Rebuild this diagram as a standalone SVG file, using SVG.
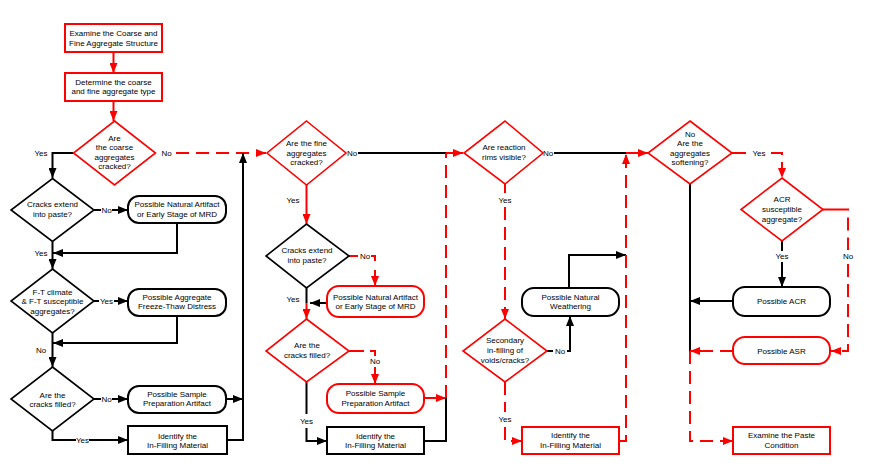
<svg xmlns="http://www.w3.org/2000/svg" width="871" height="469" viewBox="0 0 871 469">
<style>
.r{fill:none;stroke:#f00;stroke-width:2}
.k{fill:none;stroke:#000;stroke-width:2}
.d{stroke-dasharray:13 7}
.nr{fill:#fff;stroke:#f00;stroke-width:2}
.nk{fill:#fff;stroke:#000;stroke-width:2}
.dr{fill:#fff;stroke:#f00;stroke-width:1.6}
.dk{fill:#fff;stroke:#000;stroke-width:1.6}
.ar{marker-end:url(#ar)}
.ak{marker-end:url(#ak)}
text{font-family:"Liberation Sans",Arial,sans-serif;font-size:8px;text-anchor:middle;fill:#000}
</style>
<defs>
<marker id="ak" viewBox="0 0 10 8" refX="10" refY="4" markerWidth="10" markerHeight="8" markerUnits="userSpaceOnUse" orient="auto"><path d="M0,0 L10,4 L0,8 z" fill="#000"/></marker>
<marker id="ar" viewBox="0 0 10 8" refX="10" refY="4" markerWidth="10" markerHeight="8" markerUnits="userSpaceOnUse" orient="auto"><path d="M0,0 L10,4 L0,8 z" fill="#f00"/></marker>
</defs>
<rect width="871" height="469" fill="#fff"/>
<g id="connectors">
<path class="r ar" d="M113.5,52 V73"/>
<path class="r ar" d="M113.5,101 V121"/>
<path class="k ak" d="M73.5,153 H52.5 V178"/>
<path class="r d ar" d="M176,153 H266"/>
<path class="k" d="M94,210 H101"/>
<path class="k ak" d="M112,210 H128"/>
<path class="k ak" d="M177,223 V253 H53"/>
<path class="k ak" d="M52.5,241.5 V269"/>
<path class="k" d="M94,301 H99"/>
<path class="k ak" d="M114,301 H128"/>
<path class="k ak" d="M177,316 V343 H53"/>
<path class="k ak" d="M52.5,333 V367"/>
<path class="k" d="M94,399 H101"/>
<path class="k ak" d="M112,399 H128"/>
<path class="k ak" d="M226,399 H243"/>
<path class="k" d="M52.5,431 V440 H76"/>
<path class="k ak" d="M89,440 H128"/>
<path class="k ak" d="M227,440 H243 V153"/>
<path class="r ar" d="M306.5,185 V224"/>
<path class="k" d="M358,153 H446"/>
<path class="r ar" d="M446,153 H463"/>
<path class="r" d="M349,256 H358"/>
<path class="r" d="M371,256 H375 V261"/>
<path class="r ar" d="M375,270 V286"/>
<path class="k" d="M306.5,288 V303"/>
<path class="k ak" d="M327,303 H310"/>
<path class="r ar" d="M306.5,303 V319"/>
<path class="r" d="M349,351 H364"/>
<path class="r" d="M370,351 H375 V356"/>
<path class="r ar" d="M375,367 V384"/>
<path class="r ar" d="M424,398 H446"/>
<path class="k" d="M306.5,382 V414"/>
<path class="k ak" d="M306.5,428 V441 H327"/>
<path class="k" d="M424,441 H446 V398"/>
<path class="r d" d="M446,398 V153"/>
<path class="k" d="M554,153 H626"/>
<path class="r ar" d="M626,153 H648"/>
<path class="r" d="M505,184 V193"/>
<path class="r d ar" d="M505,207 V319"/>
<path class="k" d="M547,351 H553"/>
<path class="k ak" d="M567,351 H570 V316"/>
<path class="k ak" d="M569,288 V255 H626"/>
<path class="r d" d="M505,382 V412"/>
<path class="r d ar" d="M505,427 V441 H522"/>
<path class="r d ar" d="M619,441 H626 V154"/>
<path class="r" d="M732,153 H746"/>
<path class="r d ar" d="M771,153 H782 V178"/>
<path class="k" d="M690,184 V351"/>
<path class="k ak" d="M733,301 H690"/>
<path class="k" d="M782,241 V251"/>
<path class="k ak" d="M782,262 V287"/>
<path class="r" d="M823,209.5 H836"/>
<path class="r d" d="M836,209.5 H848 V250"/>
<path class="r d ar" d="M848,264 V351 H831"/>
<path class="r d ar" d="M733,351 H690"/>
<path class="r d ar" d="M690,351 V441 H733"/>
<text x="41" y="156">Yes</text>
<text x="166.5" y="156">No</text>
<text x="106.5" y="213">No</text>
<text x="41" y="256">Yes</text>
<text x="106.5" y="304">Yes</text>
<text x="41" y="353">No</text>
<text x="106.5" y="402">No</text>
<text x="82.5" y="443">Yes</text>
<text x="293" y="203">Yes</text>
<text x="352" y="156">No</text>
<text x="365" y="259">No</text>
<text x="293" y="302">Yes</text>
<text x="375" y="364">No</text>
<text x="306.5" y="424">Yes</text>
<text x="548" y="156">No</text>
<text x="505" y="203">Yes</text>
<text x="560" y="354">No</text>
<text x="505" y="422">Yes</text>
<text x="759" y="156">Yes</text>
<text x="782" y="259">Yes</text>
<text x="848" y="259">No</text>
</g>
<g id="n1"><rect class="nr" x="65" y="24" width="97" height="28"/><text x="113.5" y="36">Examine the Coarse and</text><text x="113.5" y="46">Fine Aggregate Structure</text></g>
<g id="n2"><rect class="nr" x="65" y="73" width="97" height="28"/><text x="113.5" y="85">Determine the coarse</text><text x="113.5" y="94">and fine aggregate type</text></g>
<g id="d1"><polygon class="dr" points="114.5,121 155.5,153 114.5,185 73.5,153"/><text x="114.5" y="141">Are</text><text x="114.5" y="150">the coarse</text><text x="114.5" y="160">aggregates</text><text x="114.5" y="169">cracked?</text></g>
<g id="d2"><polygon class="dk" points="52.5,178.5 94,210 52.5,241.5 11,210"/><text x="52.5" y="207">Cracks extend</text><text x="52.5" y="217">into paste?</text></g>
<g id="b3"><rect class="nk" x="128" y="196" width="98" height="27" rx="11"/><text x="177" y="207">Possible Natural Artifact</text><text x="177" y="217">or Early Stage of MRD</text></g>
<g id="d3"><polygon class="dk" points="52.5,269 94,301 52.5,333 11,301"/><text x="52.5" y="295">F-T climate</text><text x="52.5" y="304">&amp; F-T susceptible</text><text x="52.5" y="314">aggregates?</text></g>
<g id="b4"><rect class="nk" x="128" y="289" width="98" height="27" rx="11"/><text x="177" y="300">Possible Aggregate</text><text x="177" y="309">Freeze-Thaw Distress</text></g>
<g id="d4"><polygon class="dk" points="52.5,367 94,399 52.5,431 11,399"/><text x="52.5" y="398">Are the</text><text x="52.5" y="407">cracks filled?</text></g>
<g id="b5"><rect class="nk" x="128" y="386" width="98" height="27" rx="11"/><text x="177" y="397">Possible Sample</text><text x="177" y="406">Preparation Artifact</text></g>
<g id="b6"><rect class="nk" x="128" y="426" width="99" height="28"/><text x="177.5" y="439">Identify the</text><text x="177.5" y="448">In-Filling Material</text></g>
<g id="d5"><polygon class="dr" points="306.5,121 346,153 306.5,185 267,153"/><text x="306.5" y="146">Are the fine</text><text x="306.5" y="156">aggregates</text><text x="306.5" y="165">cracked?</text></g>
<g id="d6"><polygon class="dk" points="306.5,224 349,256 306.5,288 266,256"/><text x="307" y="253">Cracks extend</text><text x="307" y="263">into paste?</text></g>
<g id="b7"><rect class="nr" x="327" y="286" width="97" height="31" rx="12"/><text x="375.5" y="300">Possible Natural Artifact</text><text x="375.5" y="309">or Early Stage of MRD</text></g>
<g id="d7"><polygon class="dr" points="306.5,319 349,351 306.5,382 266,351"/><text x="307" y="348">Are the</text><text x="307" y="358">cracks filled?</text></g>
<g id="b8"><rect class="nr" x="327" y="384" width="97" height="29" rx="12"/><text x="375.5" y="396">Possible Sample</text><text x="375.5" y="406">Preparation Artifact</text></g>
<g id="b9"><rect class="nk" x="327" y="427" width="97" height="27"/><text x="375.5" y="439">Identify the</text><text x="375.5" y="448">In-Filling Material</text></g>
<g id="d8"><polygon class="dr" points="505,121 543,153 505,184 464,153"/><text x="504" y="150">Are reaction</text><text x="504" y="160">rims visible?</text></g>
<g id="b10"><rect class="nk" x="522" y="288" width="97" height="28" rx="12"/><text x="570.5" y="300">Possible Natural</text><text x="570.5" y="309">Weathering</text></g>
<g id="d9"><polygon class="dr" points="505,319 547,351 505,382 463,351"/><text x="505" y="343">Secondary</text><text x="505" y="353">in-filling of</text><text x="505" y="363">voids/cracks?</text></g>
<g id="b11"><rect class="nr" x="522" y="427" width="97" height="27"/><text x="570.5" y="438">Identify the</text><text x="570.5" y="448">In-Filling Material</text></g>
<g id="d11"><polygon class="dr" points="690,121 732,153 690,184 648,153"/><text x="690" y="137">No</text><text x="690" y="146">Are the</text><text x="690" y="156">aggregates</text><text x="690" y="165">softening?</text></g>
<g id="d12"><polygon class="dr" points="782,178 823,209.5 782,241 741,209.5"/><text x="782" y="202">ACR</text><text x="782" y="212">susceptible</text><text x="782" y="222">aggregate?</text></g>
<g id="b12"><rect class="nk" x="733" y="287" width="97" height="29" rx="12"/><text x="781.5" y="304">Possible ACR</text></g>
<g id="b13"><rect class="nr" x="733" y="337" width="97" height="27" rx="12"/><text x="781.5" y="354">Possible ASR</text></g>
<g id="b14"><rect class="nr" x="733" y="427" width="97" height="27"/><text x="781.5" y="438">Examine the Paste</text><text x="781.5" y="448">Condition</text></g>
</svg>
